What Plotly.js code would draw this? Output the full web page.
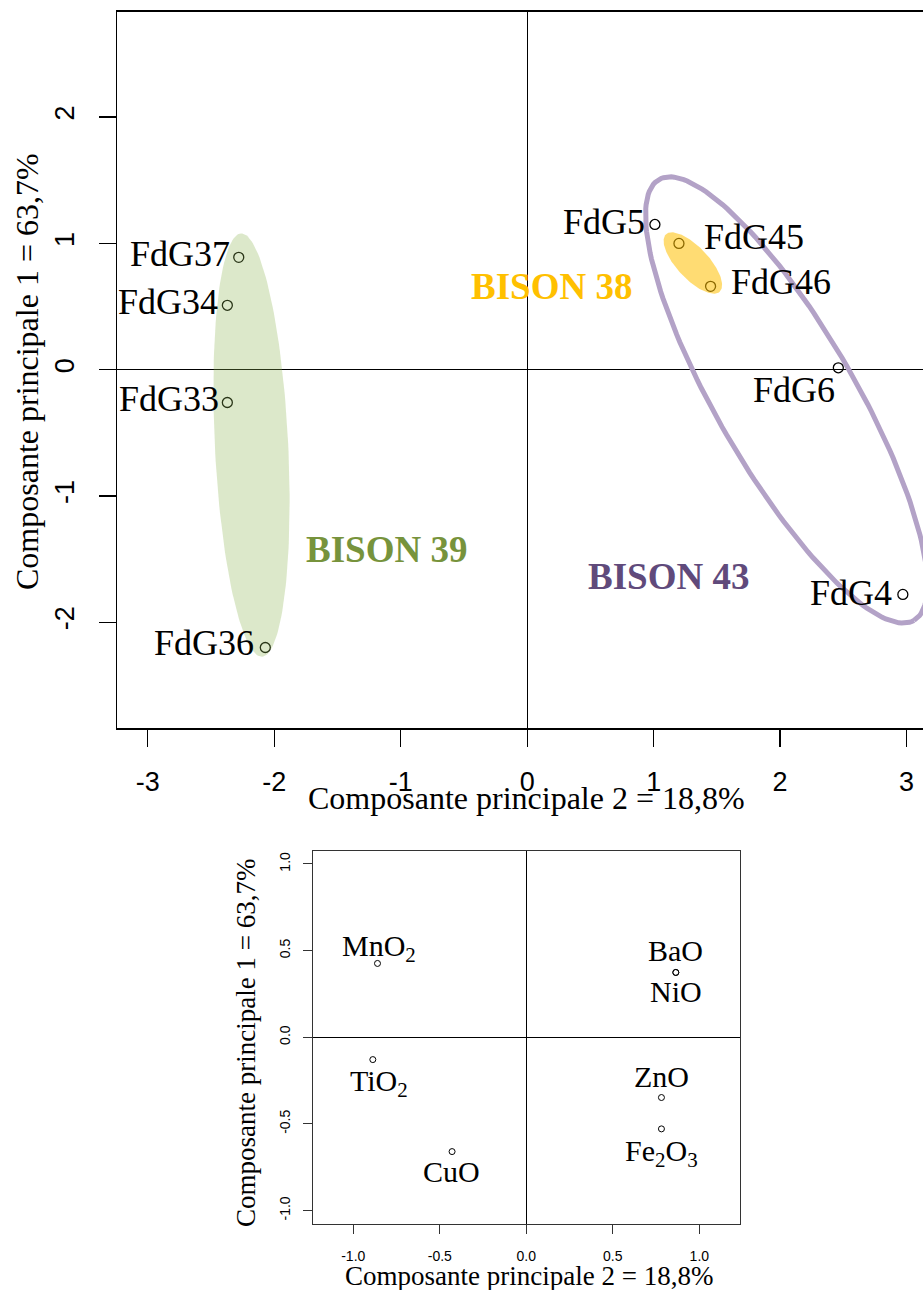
<!DOCTYPE html>
<html><head><meta charset="utf-8">
<script src="https://cdn.plot.ly/plotly-3.0.1.min.js"></script>
<style>html,body{margin:0;padding:0;overflow:hidden;background:#fff;} #chart{width:960px;height:1290px;}</style>
</head><body><div id="chart"></div>
<script>
// ---------- DATA ----------
// Individuals (top plot): x = Composante principale 2, y = Composante principale 1
const indNames = ['FdG37','FdG34','FdG33','FdG36','FdG5','FdG45','FdG46','FdG6','FdG4'];
const indPC2 = [-2.28, -2.37, -2.37, -2.07, 1.01, 1.20, 1.45, 2.46, 2.97];
const indPC1 = [0.89, 0.51, -0.26, -2.20, 1.15, 1.00, 0.66, 0.015, -1.78];

// Groups
const groupNames = ['BISON 39', 'BISON 38', 'BISON 43'];
const groupLabelPC2 = [-1.108, 0.194, 1.116];
const groupLabelPC1 = [-1.423, 0.661, -1.638];
const ellCenterPC2 = [-2.179, 1.31, 2.050];
const ellCenterPC1 = [-0.597, 0.845, -0.240];
const ellSemiMajor = [1.678, 0.311, 2.016];
const ellSemiMinor = [0.29, 0.126, 0.548];
const ellAngleDeg = [92.84, -47, -60];

// Variables (bottom plot)
const varNames = ['MnO<sub>2</sub>', 'TiO<sub>2</sub>', 'CuO', 'BaO', 'NiO', 'ZnO', 'Fe<sub>2</sub>O<sub>3</sub>'];
const varPC2 = [-0.860, -0.887, -0.429, 0.864, 0.864, 0.781, 0.781];
const varPC1 = [0.426, -0.129, -0.660, 0.374, 0.374, -0.348, -0.529];

// Ticks
const topXTickVals = [-3, -2, -1, 0, 1, 2, 3];
const topXTickText = ['-3', '-2', '-1', '0', '1', '2', '3'];
const topYTickVals = [-2, -1, 0, 1, 2];
const topYTickText = ['-2', '-1', '0', '1', '2'];
const botTickVals = [-1, -0.5, 0, 0.5, 1];
const botTickText = ['-1.0', '-0.5', '0.0', '0.5', '1.0'];

const xTitle = 'Composante principale 2 = 18,8%';
const yTitle = 'Composante principale 1 = 63,7%';

// ---------- STYLE ----------
const W = 960, H = 1290;
const px = v => v / W;
const py = v => 1 - v / H;
const SERIF = 'Liberation Serif, Times New Roman, serif';
const SANS = 'Liberation Sans, Arial, sans-serif';

// label placement per individual: [xanchor, xshift, yshift]
const indLabelStyle = {
  'FdG37': ['right', -7, 3.5], 'FdG34': ['right', -7, 3], 'FdG33': ['right', -6, 3.4],
  'FdG36': ['right', -9.5, 4], 'FdG5': ['right', -8, 2.5], 'FdG45': ['left', 23.5, 6],
  'FdG46': ['left', 18.5, 4.5], 'FdG6': ['right', -1, -22.7], 'FdG4': ['right', -8.7, 1]
};
const varLabelStyle = [[1, 15], [6, -23.2], [-1, -20.4], [0, 21.5], [0, -18.9], [0, 21.5], [0, -23.8]];
const groupColors = ['#77933C', '#FFC000', '#604A7B'];
const ellStyles = [
  {fill: 'toself', fillcolor: 'rgba(140,180,80,0.3)', line: {width: 0, color: 'rgba(0,0,0,0)'}},
  {fill: 'toself', fillcolor: 'rgba(255,192,0,0.55)', line: {width: 0, color: 'rgba(0,0,0,0)'}},
  {fill: 'none', line: {width: 5, color: '#b3a2c7'}}
];

// ---------- TRACES ----------
const traces = [];
traces.push({
  x: indPC2, y: indPC1, xaxis: 'x', yaxis: 'y', type: 'scatter', mode: 'markers',
  marker: {symbol: 'circle-open', size: 10, color: '#000', line: {width: 1.3}},
  hoverinfo: 'skip'
});
function ellipse(i) {
  const xs = [], ys = [];
  const t = ellAngleDeg[i] * Math.PI / 180;
  for (let k = 0; k <= 180; k++) {
    const a = 2 * Math.PI * k / 180;
    const u = ellSemiMajor[i] * Math.cos(a), v = ellSemiMinor[i] * Math.sin(a);
    xs.push(ellCenterPC2[i] + u * Math.cos(t) - v * Math.sin(t));
    ys.push(ellCenterPC1[i] + u * Math.sin(t) + v * Math.cos(t));
  }
  return Object.assign({x: xs, y: ys, xaxis: 'x', yaxis: 'y', type: 'scatter', mode: 'lines', hoverinfo: 'skip'}, ellStyles[i]);
}
for (let i = 0; i < groupNames.length; i++) traces.push(ellipse(i));
traces.push({
  x: varPC2, y: varPC1, xaxis: 'x2', yaxis: 'y2', type: 'scatter', mode: 'markers',
  marker: {symbol: 'circle-open', size: 6, color: '#000', line: {width: 1}},
  hoverinfo: 'skip'
});

// ---------- ANNOTATIONS ----------
const ann = [];
indNames.forEach((n, i) => {
  const s = indLabelStyle[n];
  ann.push({x: indPC2[i], y: indPC1[i], xref: 'x', yref: 'y', text: n, showarrow: false,
    xanchor: s[0], yanchor: 'middle', xshift: s[1], yshift: s[2],
    font: {family: SERIF, size: 36, color: '#000'}});
});
groupNames.forEach((n, i) => {
  ann.push({x: groupLabelPC2[i], y: groupLabelPC1[i], xref: 'x', yref: 'y', text: '<b>' + n + '</b>',
    showarrow: false, xanchor: 'center', yanchor: 'middle',
    font: {family: SERIF, size: 37, color: groupColors[i]}});
});
varNames.forEach((n, i) => {
  ann.push({x: varPC2[i], y: varPC1[i], xref: 'x2', yref: 'y2', text: n, showarrow: false,
    xanchor: 'center', yanchor: 'middle', xshift: varLabelStyle[i][0], yshift: varLabelStyle[i][1],
    font: {family: SERIF, size: 30, color: '#000'}});
});
// axis titles
ann.push({x: px(526), y: py(798), xref: 'paper', yref: 'paper', text: xTitle, showarrow: false,
  xanchor: 'center', yanchor: 'middle', font: {family: SERIF, size: 32, color: '#000'}});
ann.push({x: px(27), y: py(372), xref: 'paper', yref: 'paper', text: yTitle, showarrow: false, textangle: -90,
  xanchor: 'center', yanchor: 'middle', font: {family: SERIF, size: 32, color: '#000'}});
ann.push({x: px(528.5), y: py(1276), xref: 'paper', yref: 'paper', text: xTitle, showarrow: false,
  xanchor: 'center', yanchor: 'middle', font: {family: SERIF, size: 27, color: '#000'}});
ann.push({x: px(246), y: py(1043), xref: 'paper', yref: 'paper', text: yTitle, showarrow: false, textangle: -90,
  xanchor: 'center', yanchor: 'middle', font: {family: SERIF, size: 27, color: '#000'}});

// ---------- LAYOUT ----------
const axTop = {showgrid: false, zeroline: true, zerolinecolor: '#000', zerolinewidth: 1.3,
  showline: true, linecolor: '#000', linewidth: 1.3, mirror: true,
  ticks: 'outside', ticklen: 17, tickwidth: 1.3, tickcolor: '#000',
  tickfont: {family: SANS, size: 27, color: '#000'}, tickmode: 'array', fixedrange: true};
const axBot = {showgrid: false, zeroline: true, zerolinecolor: '#000', zerolinewidth: 1,
  showline: true, linecolor: '#333', linewidth: 1, mirror: true,
  ticks: 'outside', ticklen: 9, tickwidth: 1, tickcolor: '#333',
  tickfont: {family: SANS, size: 14, color: '#000'}, tickmode: 'array', fixedrange: true};

const layout = {
  width: W, height: H, autosize: false,
  margin: {l: 0, r: 0, t: 0, b: 0},
  paper_bgcolor: '#fff', plot_bgcolor: 'rgba(0,0,0,0)',
  showlegend: false, hovermode: false,
  font: {family: SERIF, color: '#000'},
  xaxis: Object.assign({}, axTop, {domain: [px(117.3), px(937)], range: [-3.24, 3.24],
    tickvals: topXTickVals, ticktext: topXTickText, anchor: 'y', ticklabelstandoff: 12}),
  yaxis: Object.assign({}, axTop, {domain: [py(728.3), py(11.7)], range: [-2.84, 2.835],
    tickvals: topYTickVals, ticktext: topYTickText, anchor: 'x', tickangle: -90, ticklabelstandoff: 14}),
  xaxis2: Object.assign({}, axBot, {domain: [px(313.3), px(740)], range: [-1.231, 1.235],
    tickvals: botTickVals, ticktext: botTickText, anchor: 'y2', ticklabelstandoff: 10}),
  yaxis2: Object.assign({}, axBot, {domain: [py(1224), py(851)], range: [-1.078, 1.075],
    tickvals: botTickVals, ticktext: botTickText, anchor: 'x2', tickangle: -90, ticklabelstandoff: 8}),
  annotations: ann
};

Plotly.newPlot('chart', traces, layout, {staticPlot: true, displayModeBar: false});
</script>
</body></html>
